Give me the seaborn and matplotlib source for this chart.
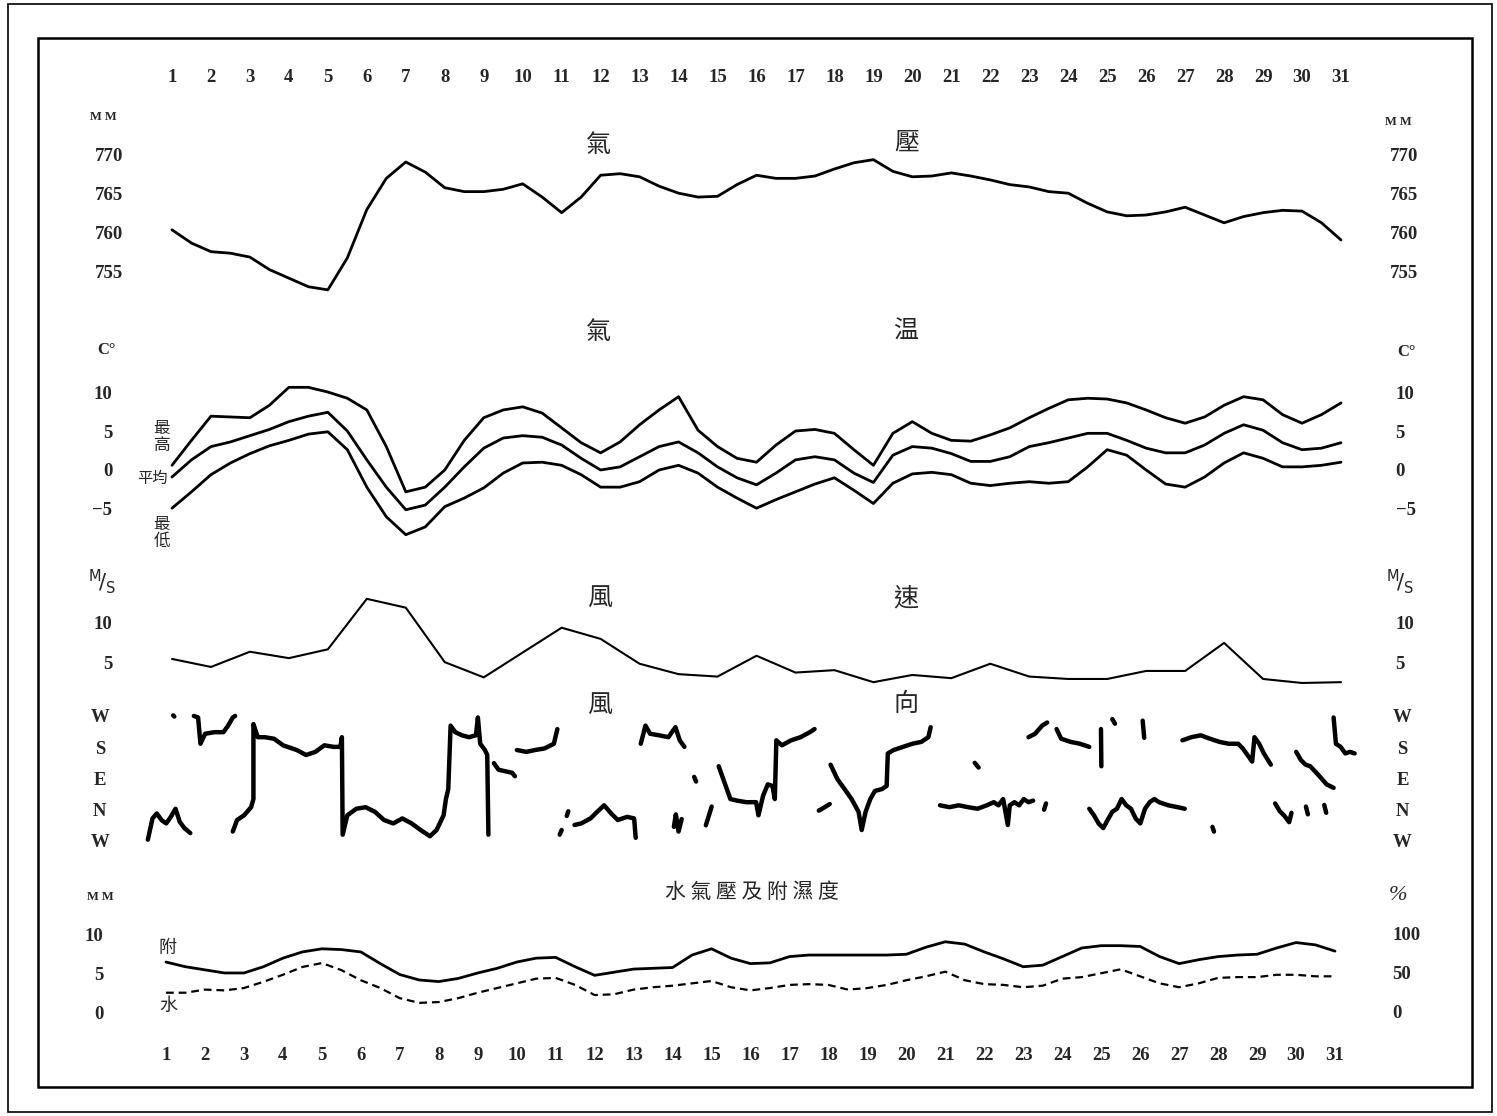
import matplotlib
matplotlib.use('Agg')
import matplotlib.pyplot as plt
from matplotlib.patches import Rectangle
import numpy as np
import seaborn as sns

W, H = 1497, 1116
nan = float('nan')

# ---- data ----
days = list(range(1, 32))
half_days = np.arange(2, 63) / 2.0   # readings every half day, 1 .. 31

pressure = [760.4, 758.7, 757.6, 757.4, 756.9, 755.3, 754.2, 753.1, 752.7, 756.8,
            763.0, 767.0, 769.1, 767.8, 765.8, 765.3, 765.3, 765.6, 766.3, 764.6,
            762.6, 764.6, 767.4, 767.6, 767.2, 766.0, 765.1, 764.6, 764.7, 766.2,
            767.4, 767.0, 767.0, 767.3, 768.2, 769.0, 769.4, 767.9, 767.2, 767.3,
            767.7, 767.3, 766.8, 766.2, 765.9, 765.3, 765.1, 763.8, 762.7, 762.2,
            762.3, 762.7, 763.3, 762.3, 761.3, 762.1, 762.6, 762.9, 762.8, 761.3,
            759.1]

temp_max = [0.6, 3.8, 6.9, 6.8, 6.7, 8.3, 10.6, 10.6, 10.0, 9.2,
            7.7, 3.0, -2.8, -2.2, 0.0, 3.8, 6.7, 7.7, 8.1, 7.3,
            5.4, 3.5, 2.2, 3.6, 5.8, 7.7, 9.4, 5.1, 3.0, 1.5,
            1.0, 3.2, 5.0, 5.2, 4.7, 2.6, 0.6, 4.7, 6.2, 4.7,
            3.8, 3.7, 4.5, 5.4, 6.7, 7.9, 9.0, 9.2, 9.1, 8.6,
            7.7, 6.7, 6.0, 6.8, 8.3, 9.4, 9.0, 7.1, 6.0, 7.1,
            8.6]
temp_mean = [-0.9, 1.3, 3.0, 3.6, 4.4, 5.2, 6.2, 6.9, 7.4, 5.0,
             1.3, -2.2, -5.1, -4.5, -2.2, 0.4, 2.8, 4.1, 4.4, 4.2,
             3.2, 1.5, 0.0, 0.4, 1.7, 3.0, 3.6, 2.2, 0.4, -1.0,
             -1.9, -0.4, 1.3, 1.7, 1.3, -0.4, -1.6, 1.9, 3.0, 2.8,
             2.1, 1.1, 1.1, 1.7, 3.0, 3.5, 4.1, 4.7, 4.7, 3.8,
             2.8, 2.2, 2.2, 3.2, 4.7, 5.8, 5.1, 3.5, 2.6, 2.8,
             3.5]
temp_min = [-4.9, -2.8, -0.6, 0.9, 2.1, 3.1, 3.8, 4.6, 4.9, 2.6,
            -2.2, -6.0, -8.3, -7.3, -4.7, -3.6, -2.3, -0.4, 0.9, 1.0,
            0.6, -0.6, -2.2, -2.2, -1.5, 0.0, 0.6, -0.4, -2.2, -3.6,
            -4.9, -3.8, -2.8, -1.8, -1.0, -2.6, -4.3, -1.7, -0.5, -0.3,
            -0.6, -1.7, -2.0, -1.7, -1.5, -1.7, -1.5, 0.4, 2.6, 1.9,
            0.0, -1.8, -2.2, -0.9, 0.9, 2.2, 1.5, 0.4, 0.4, 0.6,
            1.0]

wind_speed = [5.5, 4.5, 6.4, 5.6, 6.7, 13.0, 11.9, 5.1, 3.2, 6.3,
              9.4, 8.0, 4.9, 3.6, 3.3, 5.9, 3.8, 4.1, 2.6, 3.5,
              3.1, 4.9, 3.3, 3.0, 3.0, 4.0, 4.0, 7.5, 3.0, 2.5,
              2.6]

# wind direction trace: 0 = W, 1 = N, 2 = E, 3 = S, 4 = W ; nan = gap in record
wind_dir_day = [0.38, 0.50, 0.61, 0.73, 0.85, 0.97, 1.09, 1.20, 1.32, 1.47, nan,
                1.03, 1.06, nan,
                1.56, 1.67, 1.73, 1.85, 2.09, 2.32, 2.44, 2.56, 2.62, nan,
                2.56, 2.67, 2.85, 3.03, 3.09, 3.09, 3.20, 3.38, 3.62, 3.85, 4.20, 4.44,
                4.68, 4.91, 5.15, 5.32, 5.36, 5.38, 5.50, 5.73, 5.97, 6.21, 6.44, 6.68,
                6.91, 7.15, 7.38, 7.62, 7.79, 7.97, 8.03, 8.09, 8.15, 8.27, 8.44, 8.62,
                8.80, 8.85, 8.91, 9.03, 9.09, 9.12, nan,
                9.26, 9.38, 9.55, 9.73, 9.80, nan,
                9.85, 10.09, 10.32, 10.56, 10.80, 10.89, nan,
                10.95, 11.00, nan, 11.13, 11.17, nan,
                11.33, 11.50, 11.74, 11.91, 12.09, 12.27, 12.44, 12.68, 12.86, 12.90, nan,
                13.03, 13.15, 13.27, 13.50, 13.74, 13.92, 14.03, 14.15, nan,
                13.88, 13.93, 14.00, 14.08, nan,
                14.40, 14.45, nan,
                14.70, 14.80, 14.85, nan,
                15.03, 15.15, 15.27, 15.33, 15.50, 15.74, 15.99, 16.05, 16.17, 16.29,
                16.41, 16.47, 16.51, 16.65, 16.89, 17.13, 17.37, 17.49, nan,
                17.60, 17.75, 17.88, nan,
                17.90, 18.08, 18.26, 18.44, 18.62, 18.70, 18.80, 18.92, 19.04, 19.22,
                19.34, 19.37, 19.52, 19.76, 20.00, 20.23, 20.41, 20.47, nan,
                20.71, 20.95, 21.19, 21.43, 21.67, 21.91, 22.09, 22.21, 22.33, 22.45,
                22.50, 22.62, 22.74, 22.86, 22.98, 23.10, nan,
                21.60, 21.70, nan,
                23.38, 23.43, nan,
                22.98, 23.15, 23.33, 23.46, nan,
                23.70, 23.82, 24.06, 24.30, 24.54, nan,
                24.84, 24.85, nan,
                25.13, 25.20, nan,
                24.54, 24.66, 24.78, 24.90, 25.01, 25.13, 25.25, 25.37, 25.49, 25.61,
                25.73, 25.85, 25.97, 26.09, 26.21, 26.33, 26.57, 26.81, 26.99, nan,
                25.91, 25.95, nan,
                26.93, 27.16, 27.40, 27.64, 27.88, 28.12, 28.36, 28.48, 28.60, 28.72,
                28.78, 28.90, 29.02, 29.20, nan,
                27.70, 27.74, nan,
                29.31, 29.43, 29.55, 29.67, 29.73, nan,
                30.10, 30.15, nan, 30.57, 30.62, nan,
                29.85, 29.97, 30.09, 30.21, 30.33, 30.45, 30.63, 30.81, nan,
                30.81, 30.87, 30.99, 31.11, 31.23, 31.35]
wind_dir_val = [0.04, 0.72, 0.88, 0.67, 0.56, 0.77, 1.03, 0.61, 0.41, 0.25, nan,
                4.02, 3.98, nan,
                4.00, 3.95, 3.11, 3.43, 3.48, 3.48, 3.69, 3.95, 4.00, nan,
                0.30, 0.67, 0.82, 1.08, 1.34, 3.74, 3.32, 3.32, 3.27, 3.06, 2.91, 2.75,
                2.85, 3.06, 3.01, 3.01, 3.32, 0.20, 0.82, 1.03, 1.08, 0.93, 0.67, 0.56,
                0.72, 0.56, 0.35, 0.15, 0.35, 0.82, 1.34, 1.66, 3.69, 3.48, 3.38, 3.32,
                3.38, 3.95, 3.11, 2.91, 2.75, 0.20, nan,
                2.49, 2.28, 2.23, 2.18, 2.07, nan,
                2.91, 2.85, 2.91, 2.96, 3.11, 3.58, nan,
                0.20, 0.35, nan, 0.80, 0.95, nan,
                0.51, 0.56, 0.72, 0.93, 1.14, 0.88, 0.67, 0.77, 0.72, 0.10, nan,
                3.11, 3.69, 3.43, 3.38, 3.32, 3.64, 3.22, 3.01, nan,
                0.45, 0.85, 0.30, 0.70, nan,
                2.05, 1.90, nan,
                0.50, 0.90, 1.10, nan,
                2.39, 1.97, 1.55, 1.34, 1.29, 1.24, 1.24, 0.82, 1.45, 1.81,
                1.76, 1.34, 3.22, 3.06, 3.22, 3.32, 3.48, 3.58, nan,
                0.97, 1.08, 1.18, nan,
                2.44, 1.97, 1.66, 1.34, 0.93, 0.35, 0.93, 1.34, 1.60, 1.66,
                1.76, 2.80, 2.91, 3.01, 3.11, 3.17, 3.32, 3.64, nan,
                1.14, 1.08, 1.14, 1.08, 1.03, 1.14, 1.24, 1.14, 1.34, 0.51,
                1.14, 1.24, 1.14, 1.34, 1.24, 1.29, nan,
                2.50, 2.35, nan,
                1.00, 1.20, nan,
                3.32, 3.43, 3.69, 3.79, nan,
                3.58, 3.27, 3.17, 3.11, 3.01, nan,
                3.58, 2.39, nan,
                3.90, 3.75, nan,
                1.03, 0.82, 0.56, 0.41, 0.67, 0.93, 1.03, 1.34, 1.14, 1.03,
                0.72, 0.56, 1.03, 1.24, 1.34, 1.24, 1.14, 1.08, 1.03, nan,
                3.85, 3.30, nan,
                3.22, 3.32, 3.38, 3.27, 3.17, 3.11, 3.11, 2.96, 2.75, 2.54,
                3.32, 3.11, 2.80, 2.44, nan,
                0.45, 0.30, nan,
                1.20, 0.95, 0.80, 0.60, 0.90, nan,
                1.10, 0.85, nan, 1.15, 0.90, nan,
                2.85, 2.59, 2.44, 2.39, 2.23, 2.07, 1.81, 1.70, nan,
                3.95, 3.11, 3.01, 2.80, 2.85, 2.80]

humidity = [64, 58, 54, 50, 50, 58, 69, 77, 81, 80,
            77, 62, 48, 41, 39, 43, 50, 56, 64, 69,
            70, 58, 47, 51, 55, 56, 57, 73, 81, 69,
            62, 63, 71, 73, 73, 73, 73, 73, 74, 83,
            90, 87, 77, 68, 58, 60, 71, 82, 85, 85,
            84, 71, 62, 67, 71, 73, 74, 82, 89, 86,
            78]
vapour = [2.6, 2.6, 3.0, 2.9, 3.2, 4.0, 4.9, 5.9, 6.4, 5.5,
          4.2, 3.2, 1.9, 1.3, 1.4, 1.9, 2.6, 3.2, 3.8, 4.4,
          4.5, 3.6, 2.3, 2.4, 3.0, 3.3, 3.5, 3.8, 4.1, 3.3,
          2.9, 3.2, 3.6, 3.7, 3.6, 3.0, 3.2, 3.6, 4.2, 4.7,
          5.3, 4.2, 3.7, 3.6, 3.3, 3.5, 4.4, 4.6, 5.1, 5.6,
          4.7, 3.8, 3.3, 3.8, 4.5, 4.6, 4.6, 4.9, 4.9, 4.7,
          4.7]

pressure_ticks = [755, 760, 765, 770]
temp_ticks = [-5, 0, 5, 10]
speed_ticks = [5, 10]
dir_ticks = [0, 1, 2, 3, 4]
dir_labels = ['W', 'N', 'E', 'S', 'W']
mm_ticks = [0, 5, 10]
pct_ticks = [0, 50, 100]

# ---- figure ----
sns.set_style('white')
plt.rcParams['font.family'] = ['Liberation Serif', 'Noto Sans CJK TC', 'DejaVu Sans']
CJK = ['Noto Sans CJK TC', 'DejaVu Sans']
NUM = 13.5
LINE = dict(color='black', estimator=None, solid_joinstyle='round',
            solid_capstyle='round')

fig = plt.figure(figsize=(W / 100, H / 100), dpi=100)


def px_axes(x0, y0, x1, y1):
    return fig.add_axes([x0 / W, 1 - y1 / H, (x1 - x0) / W, (y1 - y0) / H])


def px_text(x, y, s, **kw):
    fig.text(x / W, 1 - y / H, s, ha='center', va='center', **kw)


def strip(ax, xlim):
    ax.set_xlim(*xlim)
    for sp in ax.spines.values():
        sp.set_visible(False)
    ax.set_xlabel('')
    ax.set_ylabel('')
    ax.patch.set_alpha(0)
    ax.grid(False)


def y_labels(ax, ylim, ticks, labels, lpad, rpad, centre=False):
    ax.set_ylim(*ylim)
    ax.set_yticks(ticks)
    ax.set_yticklabels(labels, fontsize=NUM, fontweight='bold')
    ax.tick_params(axis='y', length=0, pad=lpad)
    tw = ax.twinx()
    strip(tw, ax.get_xlim())
    tw.set_ylim(*ylim)
    tw.set_yticks(ticks)
    tw.set_yticklabels(labels, fontsize=NUM, fontweight='bold')
    tw.tick_params(axis='y', length=0, pad=rpad)
    if centre:
        for lbl in ax.get_yticklabels() + tw.get_yticklabels():
            lbl.set_horizontalalignment('center')
    return tw


def day_labels(ax, pad):
    ax.set_xticks(days)
    ax.set_xticklabels([str(d) for d in days], fontsize=NUM, fontweight='bold')
    ax.tick_params(axis='x', length=0, pad=pad)


XL = (0.179, 31.616)

# pressure
ax = px_axes(140, 100, 1365, 300)
sns.lineplot(x=half_days, y=pressure, ax=ax, lw=2.0, **LINE)
strip(ax, XL)
ax.xaxis.tick_top()
day_labels(ax, 10)
y_labels(ax, (751.4, 777.05), pressure_ticks, [str(t) for t in pressure_ticks], 12, 18)

# temperature
ax = px_axes(140, 340, 1365, 550)
sns.lineplot(x=half_days, y=temp_max, ax=ax, lw=2.0, **LINE)
sns.lineplot(x=half_days, y=temp_mean, ax=ax, lw=2.0, **LINE)
sns.lineplot(x=half_days, y=temp_min, ax=ax, lw=2.0, **LINE)
strip(ax, XL)
ax.set_xticks([])
y_labels(ax, (-10.26, 16.67), temp_ticks, ['\u22125', '0', '5', '10'], 20, 22)

# wind speed
ax = px_axes(140, 570, 1365, 700)
sns.lineplot(x=days, y=wind_speed, ax=ax, lw=1.5, **LINE)
strip(ax, XL)
ax.set_xticks([])
y_labels(ax, (0.375, 16.6), speed_ticks, [str(t) for t in speed_ticks], 20, 22)

# wind direction
ax = px_axes(140, 700, 1365, 850)
d_arr = np.array(wind_dir_day, dtype=float)
v_arr = np.array(wind_dir_val, dtype=float)
breaks = np.where(np.isnan(d_arr))[0]
start = 0
for stop in list(breaks) + [len(d_arr)]:
    if stop - start >= 2:
        sns.lineplot(x=d_arr[start:stop], y=v_arr[start:stop], ax=ax, lw=3.2,
                     sort=False, **LINE)
    start = stop + 1
strip(ax, XL)
ax.set_xticks([])
y_labels(ax, (-0.29, 4.51), dir_ticks, dir_labels, 29, 27, centre=True)

# vapour pressure and humidity (drawn a little to the left in the original)
ax = px_axes(134, 880, 1359, 1030)
sns.lineplot(x=half_days, y=vapour, ax=ax, lw=1.6, linestyle=(0, (3.5, 2.2)),
             color='black', estimator=None)
strip(ax, XL)
ax.set_ylim(-2.18, 17.05)
ax.set_yticks(mm_ticks)
ax.set_yticklabels([str(t) for t in mm_ticks], fontsize=NUM, fontweight='bold')
ax.tick_params(axis='y', length=0, pad=22)
day_labels(ax, 12)
ax2 = ax.twinx()
sns.lineplot(x=half_days, y=humidity, ax=ax2, lw=2.0, **LINE)
strip(ax2, XL)
ax2.set_ylim(-23.1, 169.2)
ax2.set_yticks(pct_ticks)
ax2.set_yticklabels([str(t) for t in pct_ticks], fontsize=NUM, fontweight='bold')
ax2.tick_params(axis='y', length=0, pad=24)

# ---- titles and side labels ----
for x, y, s in [(598, 145, '氣'), (907, 143, '壓'), (598, 332, '氣'), (906, 332, '温'),
                (600, 598, '風'), (906, 598, '速'), (600, 705, '風'), (906, 704, '向')]:
    px_text(x, y, s, fontsize=18, family=CJK)
px_text(752, 892, '水 氣 壓 及 附 濕 度', fontsize=15, family=CJK)
px_text(162, 437, '最\n高', fontsize=12, family=CJK, linespacing=1.0)
px_text(152, 478, '平均', fontsize=11, family=CJK)
px_text(162, 533, '最\n低', fontsize=12, family=CJK, linespacing=1.0)
px_text(168, 948, '附', fontsize=13, family=CJK)
px_text(168, 1006, '水', fontsize=13, family=CJK)

px_text(103, 117, 'M M', fontsize=9, fontweight='bold')
px_text(1398, 122, 'M M', fontsize=9, fontweight='bold')
px_text(106, 350, 'C°', fontsize=12, fontweight='bold')
px_text(1407, 352, 'C°', fontsize=12, fontweight='bold')
px_text(102, 582, r'$^{\rm M}\!/_{\rm S}$', fontsize=15)
px_text(1400, 582, r'$^{\rm M}\!/_{\rm S}$', fontsize=15)
px_text(100, 897, 'M M', fontsize=9, fontweight='bold')
px_text(1398, 895, '%', fontsize=16, style='italic')

# ---- frames ----
fig.add_artist(Rectangle((38 / W, 1 - 1087 / H), (1472 - 38) / W, (1087 - 38) / H,
                         transform=fig.transFigure, fill=False, lw=1.8, ec='black'))
fig.add_artist(Rectangle((8 / W, 1 - 1112 / H), (1492 - 8) / W, (1112 - 4) / H,
                         transform=fig.transFigure, fill=False, lw=1.2, ec='black'))

fig.savefig('out.png', dpi=100, facecolor='white')
